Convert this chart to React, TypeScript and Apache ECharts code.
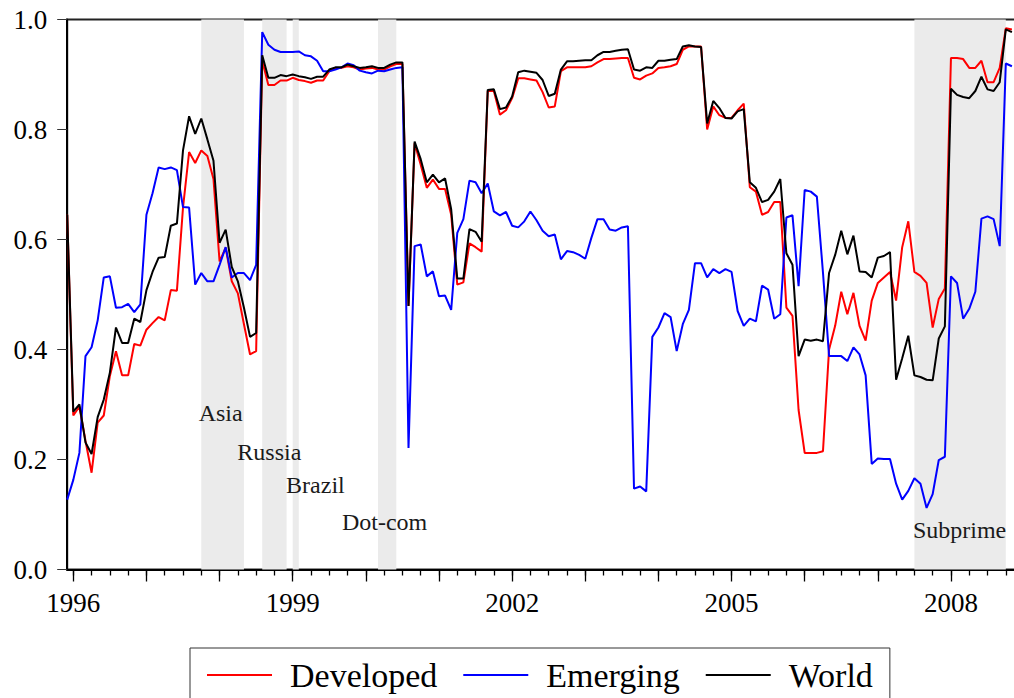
import React, { useEffect, useRef } from "react";
import * as echarts from "echarts";

// Monthly categories: Dec 1995 ... Dec 2008
const months: string[] = [];
for (let k = 0; k < 157; k++) {
  const m = 11 + k;
  const y = 1995 + Math.floor(m / 12);
  const mo = (m % 12) + 1;
  months.push(`${y}-${mo < 10 ? "0" + mo : mo}`);
}

const labeledYears = ["1996", "1999", "2002", "2005", "2008"];
const yTicks = [0, 0.2, 0.4, 0.6, 0.8, 1.0];

const developed = [
  0.645, 0.28, 0.296, 0.234, 0.176, 0.267, 0.28, 0.352, 0.397, 0.353, 0.353, 0.41, 0.407,
  0.436, 0.448, 0.459, 0.453, 0.508, 0.507, 0.658, 0.759, 0.739, 0.762, 0.752, 0.71, 0.56,
  0.585, 0.524, 0.502, 0.446, 0.391, 0.397, 0.925, 0.881, 0.881, 0.889, 0.889, 0.894, 0.89,
  0.888, 0.885, 0.889, 0.889, 0.906, 0.912, 0.912, 0.915, 0.913, 0.909, 0.911, 0.912, 0.909,
  0.909, 0.915, 0.919, 0.919, 0.479, 0.775, 0.736, 0.694, 0.709, 0.692, 0.692, 0.645, 0.518,
  0.522, 0.593, 0.586, 0.578, 0.87, 0.87, 0.827, 0.835, 0.857, 0.893, 0.893, 0.891, 0.889,
  0.868, 0.84, 0.842, 0.906, 0.913, 0.913, 0.913, 0.913, 0.915, 0.922, 0.928, 0.928, 0.929,
  0.93, 0.93, 0.894, 0.891, 0.898, 0.902, 0.912, 0.913, 0.915, 0.919, 0.945, 0.951, 0.951,
  0.951, 0.8, 0.842, 0.826, 0.821, 0.821, 0.835, 0.847, 0.695, 0.687, 0.645, 0.65, 0.668,
  0.668, 0.476, 0.461, 0.29, 0.212, 0.212, 0.212, 0.215, 0.4, 0.443, 0.505, 0.464, 0.503,
  0.443, 0.416, 0.489, 0.521, 0.531, 0.541, 0.489, 0.586, 0.633, 0.541, 0.534, 0.521, 0.44,
  0.492, 0.511, 0.93, 0.93, 0.928, 0.912, 0.912, 0.925, 0.886, 0.886, 0.912, 0.984, 0.982,
];

const emerging = [
  0.127, 0.163, 0.212, 0.388, 0.404, 0.453, 0.531, 0.533, 0.476, 0.477, 0.483, 0.468, 0.482,
  0.645, 0.684, 0.731, 0.728, 0.731, 0.726, 0.659, 0.658, 0.518, 0.539, 0.524, 0.524, 0.554,
  0.586, 0.531, 0.539, 0.539, 0.526, 0.554, 0.977, 0.954, 0.945, 0.941, 0.941, 0.941, 0.942,
  0.935, 0.933, 0.925, 0.906, 0.906, 0.909, 0.913, 0.92, 0.917, 0.907, 0.904, 0.902, 0.907,
  0.906, 0.909, 0.912, 0.913, 0.221, 0.588, 0.591, 0.533, 0.542, 0.497, 0.498, 0.472, 0.612,
  0.637, 0.707, 0.704, 0.684, 0.702, 0.651, 0.644, 0.65, 0.625, 0.622, 0.633, 0.651, 0.635,
  0.616, 0.606, 0.609, 0.564, 0.579, 0.577, 0.572, 0.565, 0.603, 0.637, 0.637, 0.618, 0.616,
  0.622, 0.624, 0.147, 0.151, 0.142, 0.423, 0.44, 0.466, 0.459, 0.397, 0.446, 0.472, 0.557,
  0.557, 0.531, 0.546, 0.539, 0.546, 0.541, 0.47, 0.443, 0.456, 0.451, 0.516, 0.509, 0.456,
  0.464, 0.64, 0.644, 0.515, 0.69, 0.687, 0.678, 0.54, 0.388, 0.388, 0.388, 0.379, 0.404,
  0.391, 0.353, 0.192, 0.202, 0.201, 0.201, 0.156, 0.127, 0.143, 0.166, 0.156, 0.112, 0.137,
  0.199, 0.205, 0.533, 0.521, 0.456, 0.474, 0.505, 0.638, 0.642, 0.637, 0.588, 0.92, 0.915,
];

const world = [
  0.645, 0.287, 0.3, 0.231, 0.21, 0.277, 0.309, 0.358, 0.44, 0.412, 0.412, 0.456, 0.45,
  0.508, 0.541, 0.567, 0.568, 0.625, 0.629, 0.762, 0.824, 0.792, 0.82, 0.782, 0.743, 0.594,
  0.618, 0.55, 0.524, 0.476, 0.423, 0.43, 0.935, 0.894, 0.894, 0.899, 0.897, 0.9, 0.897,
  0.895, 0.892, 0.896, 0.896, 0.909, 0.913, 0.913, 0.918, 0.915, 0.912, 0.913, 0.915, 0.912,
  0.912, 0.918, 0.922, 0.922, 0.479, 0.778, 0.746, 0.704, 0.718, 0.704, 0.711, 0.655, 0.529,
  0.529, 0.619, 0.614, 0.596, 0.872, 0.873, 0.837, 0.84, 0.86, 0.904, 0.907, 0.905, 0.903,
  0.89, 0.861, 0.865, 0.909, 0.924, 0.924, 0.925, 0.926, 0.926, 0.935, 0.941, 0.941, 0.943,
  0.945, 0.946, 0.909, 0.907, 0.913, 0.912, 0.925, 0.925, 0.927, 0.928, 0.951, 0.953, 0.951,
  0.95, 0.811, 0.852, 0.839, 0.821, 0.82, 0.833, 0.837, 0.704, 0.694, 0.668, 0.672, 0.687,
  0.71, 0.575, 0.554, 0.388, 0.418, 0.416, 0.418, 0.415, 0.539, 0.572, 0.616, 0.573, 0.607,
  0.542, 0.541, 0.531, 0.567, 0.57, 0.577, 0.345, 0.384, 0.425, 0.353, 0.35, 0.345, 0.344,
  0.42, 0.442, 0.874, 0.863, 0.859, 0.857, 0.87, 0.896, 0.873, 0.87, 0.886, 0.982, 0.977,
];

// Crisis periods (shaded)
const crisisStart = ["1997-10", "1998-08", "1999-01", "2000-03", "2007-07"];
const crisisEnd = ["1998-05", "1998-12", "1999-02", "2000-06", "2008-10"];

// Crisis annotations: label, month anchor (left edge), value (vertical centre)
const noteNames = ["Asia", "Russia", "Brazil", "Dot-com", "Subprime"];
const noteMonths = ["1997-09", "1998-04", "1998-12", "1999-09", "2007-07"];
const noteValues = [0.285, 0.214, 0.154, 0.087, 0.071];
const noteShift = [3, -1, -1, 0, -2];

const serif = "'Liberation Serif', 'DejaVu Serif', serif";

export default function App() {
  const ref = useRef<HTMLDivElement>(null);

  useEffect(() => {
    if (!ref.current) return;
    const chart = echarts.init(ref.current, undefined, { renderer: "svg" });

    const lineSeries = (name: string, data: number[], color: string) => ({
      type: "line",
      name,
      data,
      xAxisIndex: 0,
      yAxisIndex: 0,
      showSymbol: false,
      symbol: "none",
      color,
      itemStyle: { color },
      lineStyle: { color, width: 2 },
      emphasis: { disabled: true },
    });

    chart.setOption({
      animation: false,
      backgroundColor: "#ffffff",
      textStyle: { fontFamily: serif },
      grid: {
        left: 67.2,
        right: 12,
        top: 19.5,
        bottom: 128.5,
        show: true,
        borderColor: "#222",
        borderWidth: 2,
        backgroundColor: "transparent",
      },
      legend: {
        data: ["Developed", "Emerging", "World"],
        left: 190,
        top: 648,
        icon: "rect",
        itemWidth: 65,
        itemHeight: 2,
        itemGap: 26,
        selectedMode: false,
        padding: [10, 17, 10, 17],
        borderColor: "#333",
        borderWidth: 1,
        textStyle: {
          fontFamily: serif,
          fontSize: 34,
          color: "#000",
          padding: [0, 0, 0, 13],
        },
      },
      xAxis: [
        {
          type: "category",
          data: months,
          boundaryGap: false,
          axisLine: { show: true, lineStyle: { color: "#000", width: 2 } },
          axisTick: {
            show: true,
            length: 12,
            interval: (index: number) => (index - 1) % 12 === 0,
            lineStyle: { color: "#000", width: 1.3 },
          },
          axisLabel: {
            show: true,
            interval: (index: number) =>
              (index - 1) % 12 === 0 && labeledYears.includes(months[index].slice(0, 4)),
            formatter: (v: string) => v.slice(0, 4),
            fontFamily: serif,
            fontSize: 27,
            color: "#000",
            margin: 20,
          },
          splitLine: { show: false },
        },
        {
          type: "category",
          data: months,
          boundaryGap: false,
          position: "bottom",
          axisLine: { show: false },
          axisTick: {
            show: true,
            length: 6,
            interval: (index: number) => (index - 1) % 3 === 0,
            lineStyle: { color: "#000", width: 1.3 },
          },
          axisLabel: { show: false },
          splitLine: { show: false },
        },
      ],
      yAxis: {
        type: "value",
        min: 0,
        max: 1,
        interval: 0.2,
        axisLine: { show: true, lineStyle: { color: "#000", width: 2 } },
        axisTick: { show: true, length: 10, lineStyle: { color: "#333", width: 1 } },
        axisLabel: {
          formatter: (v: number) => (yTicks.some((t) => Math.abs(t - v) < 1e-9) ? v.toFixed(1) : ""),
          fontFamily: serif,
          fontSize: 27,
          color: "#000",
          margin: 20,
        },
        splitLine: { show: false },
      },
      series: [
        {
          type: "line",
          name: "_crises",
          data: [],
          silent: true,
          markArea: {
            silent: true,
            itemStyle: { color: "#EBEBEB" },
            data: crisisStart.map((s, k) => [{ xAxis: s }, { xAxis: crisisEnd[k] }]),
          },
          markPoint: {
            silent: true,
            symbol: "rect",
            symbolSize: 1,
            itemStyle: { color: "rgba(0,0,0,0)" },
            data: noteNames.map((n, k) => ({
              name: n,
              coord: [noteMonths[k], noteValues[k]],
              label: {
                show: true,
                position: "right",
                distance: 0,
                offset: [noteShift[k], 0],
                formatter: n,
                fontFamily: serif,
                fontSize: 24,
                color: "#1a1a1a",
              },
            })),
          },
        },
        lineSeries("Developed", developed, "#FF0000"),
        lineSeries("Emerging", emerging, "#0000FF"),
        lineSeries("World", world, "#000000"),
      ],
    });

    return () => chart.dispose();
  }, []);

  return (
    <div
      style={{
        position: "absolute",
        left: 0,
        top: 0,
        width: 1014,
        height: 698,
        overflow: "hidden",
        background: "#fff",
      }}
    >
      <div ref={ref} style={{ width: 1030, height: 698 }} />
    </div>
  );
}
